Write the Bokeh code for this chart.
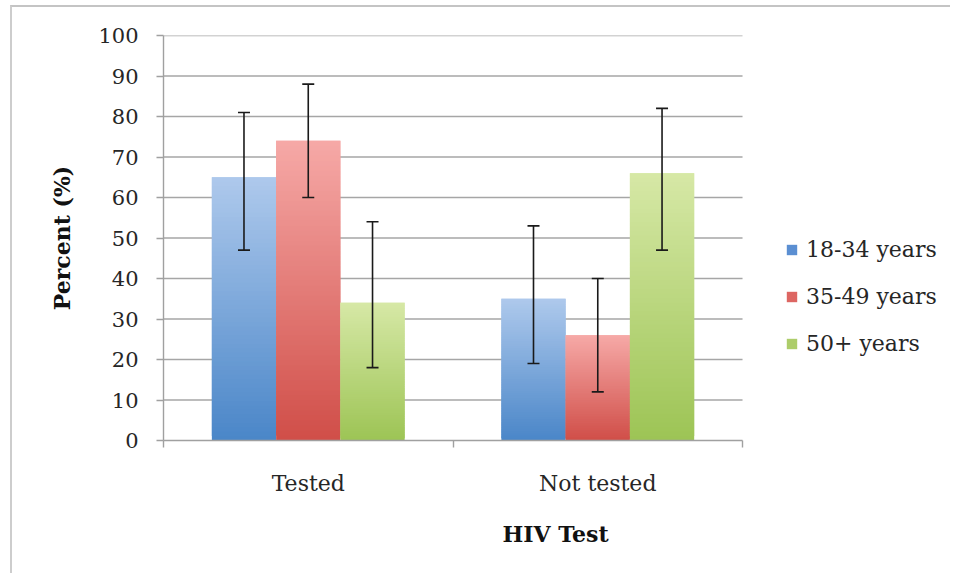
from bokeh.plotting import figure
from bokeh.models import (FixedTicker, Range1d, Whisker, ColumnDataSource, TeeHead,
                          Legend, LegendItem)
from bokeh.embed import file_html
from bokeh.resources import INLINE

# ---- data ----
categories = ["Tested", "Not tested"]
series = ["18-34 years", "35-49 years", "50+ years"]
values_1834 = [65, 35]
values_3549 = [74, 26]
values_50p = [34, 66]
lower_1834 = [47, 19]
upper_1834 = [81, 53]
lower_3549 = [60, 12]
upper_3549 = [88, 40]
lower_50p = [18, 47]
upper_50p = [54, 82]
y_ticks = [0, 10, 20, 30, 40, 50, 60, 70, 80, 90, 100]

all_values = [values_1834, values_3549, values_50p]
all_lower = [lower_1834, lower_3549, lower_50p]
all_upper = [upper_1834, upper_3549, upper_50p]

# gradient colours (top, bottom) and legend colours
grad = [((0xAE, 0xC9, 0xEC), (0x4A, 0x86, 0xC8)),
        ((0xF6, 0xA9, 0xA7), (0xD0, 0x4E, 0x48)),
        ((0xD6, 0xE8, 0xA6), (0x9D, 0xC4, 0x55))]
legend_colors = ["#5B8FD2", "#DD6662", "#ADCD6A"]

FONT = "DejaVu Serif"
W, H = 940, 568
n_cat = len(categories)

p = figure(width=W, height=H, output_backend="svg", toolbar_location=None,
           x_range=Range1d(0, 2.708), y_range=Range1d(0, 100),
           min_border_left=151, min_border_right=5, min_border_top=28,
           min_border_bottom=135)
p.outline_line_color = None
p.background_fill_color = "white"
p.border_fill_color = "white"
p.styles = {"border-left": "2px solid #cdcdcd", "border-top": "2px solid #c4c4c4",
            "margin": "5px 0px 0px 10px"}

# grid (drawn manually so it stops at the last category)
p.xgrid.grid_line_color = None
p.ygrid.grid_line_color = None
p.segment(x0=[0] * len(y_ticks[1:]), x1=[n_cat] * len(y_ticks[1:]),
          y0=y_ticks[1:], y1=y_ticks[1:], line_color="#a6a6a6", line_width=1.4)

# bars with vertical gradient (drawn as thin stacked slices)
N = 60
bar_w = 0.222
offsets = [-0.222, 0.0, 0.222]
legend_renderers = []
for s in range(len(series)):
    top_c, bot_c = grad[s]
    lefts, rights, bottoms, tops, colors = [], [], [], [], []
    for c in range(n_cat):
        xc = c + 0.5 + offsets[s]
        v = all_values[s][c]
        for k in range(N):
            b = v * k / N
            t = v * (k + 1) / N
            f = (k + 0.5) / N  # 0 bottom -> 1 top
            col = tuple(int(round(bot_c[i] + (top_c[i] - bot_c[i]) * f)) for i in range(3))
            lefts.append(xc - bar_w / 2)
            rights.append(xc + bar_w / 2)
            bottoms.append(b)
            tops.append(min(t + v / N, v))
            colors.append("#%02x%02x%02x" % col)
    p.quad(left=lefts, right=rights, bottom=bottoms, top=tops, fill_color=colors,
           line_color=None)
    # legend proxy (off-range)
    r = p.quad(left=[-10], right=[-9], bottom=[-10], top=[-9],
               fill_color=legend_colors[s], line_color=None)
    legend_renderers.append(r)

# error bars
for s in range(len(series)):
    xs = [c + 0.5 + offsets[s] for c in range(n_cat)]
    src = ColumnDataSource(dict(x=xs, lo=all_lower[s], hi=all_upper[s]))
    w = Whisker(source=src, base="x", lower="lo", upper="hi", dimension="height",
                line_color="#1a1a1a", line_width=1.6, level="overlay",
                upper_head=TeeHead(size=12, line_color="#1a1a1a", line_width=1.6),
                lower_head=TeeHead(size=12, line_color="#1a1a1a", line_width=1.6))
    p.add_layout(w)

# y axis
yax = p.yaxis[0]
yax.ticker = FixedTicker(ticks=y_ticks)
yax.axis_line_color = "#a0a0a0"
yax.axis_line_width = 1.4
yax.major_tick_line_color = "#a0a0a0"
yax.major_tick_line_width = 1.4
yax.major_tick_out = 7
yax.major_tick_in = 0
yax.minor_tick_line_color = None
yax.major_label_text_font = FONT
yax.major_label_text_font_size = "21px"
yax.major_label_text_color = "#262626"
yax.major_label_standoff = 18
yax.axis_label = "Percent (%)"
yax.axis_label_text_font = FONT
yax.axis_label_text_font_style = "bold"
yax.axis_label_text_font_size = "22px"
yax.axis_label_text_color = "#111111"
yax.axis_label_standoff = 20

# x axis
xax = p.xaxis[0]
xax.bounds = (0, n_cat)
xax.ticker = FixedTicker(ticks=[0.5, 1.5], minor_ticks=[0, 1, 2])
xax.major_label_overrides = {0.5: categories[0], 1.5: categories[1]}
xax.axis_line_color = "#a0a0a0"
xax.axis_line_width = 1.4
xax.major_tick_line_color = None
xax.major_tick_out = 0
xax.major_tick_in = 0
xax.minor_tick_line_color = "#a0a0a0"
xax.minor_tick_line_width = 1.4
xax.minor_tick_out = 7
xax.minor_tick_in = 0
xax.major_label_text_font = FONT
xax.major_label_text_font_size = "22px"
xax.major_label_text_color = "#262626"
xax.major_label_standoff = 23
xax.axis_label = "HIV Test"
xax.axis_label_text_font = FONT
xax.axis_label_text_font_style = "bold"
xax.axis_label_text_font_size = "22px"
xax.axis_label_text_color = "#111111"
xax.axis_label_standoff = 22

# legend
items = [LegendItem(label=series[i], renderers=[legend_renderers[i]]) for i in range(3)]
legend = Legend(items=items, location=(622, 84), orientation="vertical",
                label_text_font=FONT, label_text_font_size="22px",
                label_text_color="#262626", glyph_width=13, glyph_height=13,
                spacing=22, label_standoff=8, padding=0, margin=0,
                border_line_color=None, background_fill_alpha=0)
p.add_layout(legend)

open("out.html", "w").write(file_html(p, INLINE))
